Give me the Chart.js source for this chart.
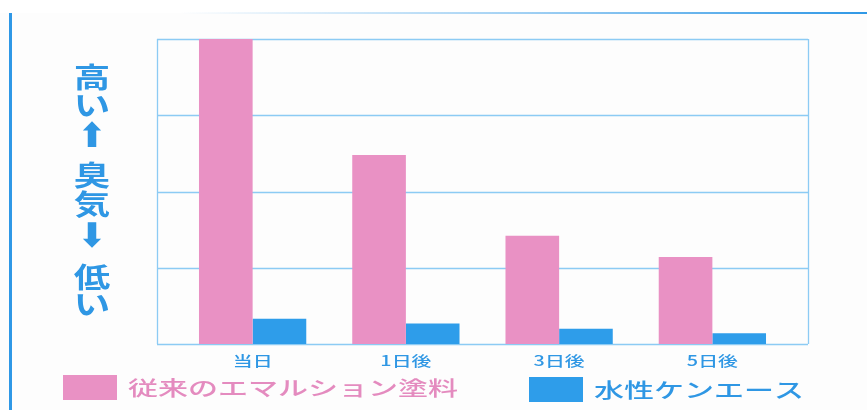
<!DOCTYPE html>
<html>
<head>
<meta charset="utf-8">
<script src="https://cdn.jsdelivr.net/npm/chart.js@4/dist/chart.umd.min.js"></script>
<style>
  html, body { margin: 0; padding: 0; background: #fff; }
  #wrap { width: 867px; height: 410px; }
</style>
</head>
<body>
<div id="wrap"><canvas id="odorChart"></canvas></div>
<script>
const days = ['当日', '1日後', '3日後', '5日後'];
const emulsionPaint = [4.0, 2.48, 1.42, 1.14];
const kenAce = [0.33, 0.27, 0.20, 0.14];
const seriesNames = ['従来のエマルション塗料', '水性ケンエース'];
const odorTicks = [0, 1, 2, 3, 4];
const odorAxisText = ['高', 'い', '⬆', '臭', '気', '⬇', '低', 'い'];

const PINK = '#e991c4';
const BLUE = '#2e9dea';
const TEXT_BLUE = '#2f97e4';
const GRID = '#8ccbf4';
const CJK = '"Noto Sans CJK JP", "DejaVu Sans", sans-serif';

// draw text squeezed wide, the scan is stretched sideways
function wideText(ctx, text, x, y, sx) {
    ctx.save();
    ctx.translate(x, y);
    ctx.scale(sx, 1);
    ctx.fillText(text, 0, 0);
    ctx.restore();
}

const framePlugin = {
    id: 'frame',
    beforeDraw(chart) {
        const ctx = chart.ctx;
        ctx.save();
        ctx.fillStyle = '#fdfdfd';
        ctx.fillRect(0, 13, chart.width, chart.height);
        // page border lines
        ctx.fillStyle = '#2f98e6';
        ctx.fillRect(9, 13, 3, chart.height);
        const g = ctx.createLinearGradient(180, 0, chart.width, 0);
        g.addColorStop(0, 'rgba(47,152,230,0)');
        g.addColorStop(0.5, 'rgba(47,152,230,0.45)');
        g.addColorStop(1, 'rgba(47,152,230,1)');
        ctx.fillStyle = g;
        ctx.fillRect(180, 12, chart.width - 180, 2);
        ctx.restore();
    },
    beforeDatasetsDraw(chart) {
        const { ctx, chartArea: a, scales: { y } } = chart;
        const left = a.left - 19, right = a.right + 19;
        ctx.save();
        ctx.strokeStyle = GRID;
        ctx.lineWidth = 1.3;
        y.ticks.forEach(t => {
            const py = Math.round(y.getPixelForValue(t.value)) + 0.5;
            ctx.beginPath();
            ctx.moveTo(left, py);
            ctx.lineTo(right, py);
            ctx.stroke();
        });
        const top = y.getPixelForValue(y.max), bottom = y.getPixelForValue(y.min);
        [left, right].forEach(px => {
            ctx.beginPath();
            ctx.moveTo(px + 0.5, top);
            ctx.lineTo(px + 0.5, bottom);
            ctx.stroke();
        });
        ctx.restore();
    },
    afterDraw(chart) {
        const { ctx, scales: { x } } = chart;
        ctx.save();
        // category labels
        ctx.fillStyle = TEXT_BLUE;
        ctx.font = '500 14px ' + CJK;
        ctx.textAlign = 'center';
        ctx.textBaseline = 'middle';
        days.forEach((d, i) => wideText(ctx, d, x.getPixelForValue(i), 361, 1.42));

        // vertical axis caption
        const ys = [77, 105, 138, 175, 204, 238, 277, 304];
        odorAxisText.forEach((ch, i) => {
            const arrow = ch === '⬆' || ch === '⬇';
            ctx.font = arrow ? 'bold 34px "DejaVu Sans", sans-serif' : 'bold 28px ' + CJK;
            wideText(ctx, ch, 92, ys[i], arrow ? 1.0 : 1.3);
        });

        // legend
        const items = [{ x: 63, y: 375 }, { x: 529, y: 377 }];
        chart.data.datasets.forEach((ds, i) => {
            const it = items[i];
            ctx.fillStyle = ds.backgroundColor;
            ctx.fillRect(it.x, it.y, 54, 25);
            ctx.fillStyle = i === 0 ? '#e48bbf' : TEXT_BLUE;
            ctx.font = '500 20px ' + CJK;
            ctx.textAlign = 'left';
            wideText(ctx, ds.label, it.x + 65, it.y + 13, 1.5);
        });
        ctx.restore();
    }
};

new Chart(document.getElementById('odorChart'), {
    type: 'bar',
    data: {
        labels: days,
        datasets: [
            { label: seriesNames[0], data: emulsionPaint, backgroundColor: PINK },
            { label: seriesNames[1], data: kenAce, backgroundColor: BLUE }
        ]
    },
    options: {
        responsive: true,
        maintainAspectRatio: false,
        animation: false,
        layout: { padding: { left: 176, right: 78, top: 39, bottom: 66 } },
        datasets: { bar: { categoryPercentage: 0.7, barPercentage: 1.0 } },
        plugins: { legend: { display: false }, tooltip: { enabled: false } },
        scales: {
            x: { display: false },
            y: {
                display: false,
                min: 0,
                max: 4,
                afterBuildTicks: axis => { axis.ticks = odorTicks.map(v => ({ value: v })); }
            }
        }
    },
    plugins: [framePlugin]
});
</script>
</body>
</html>
